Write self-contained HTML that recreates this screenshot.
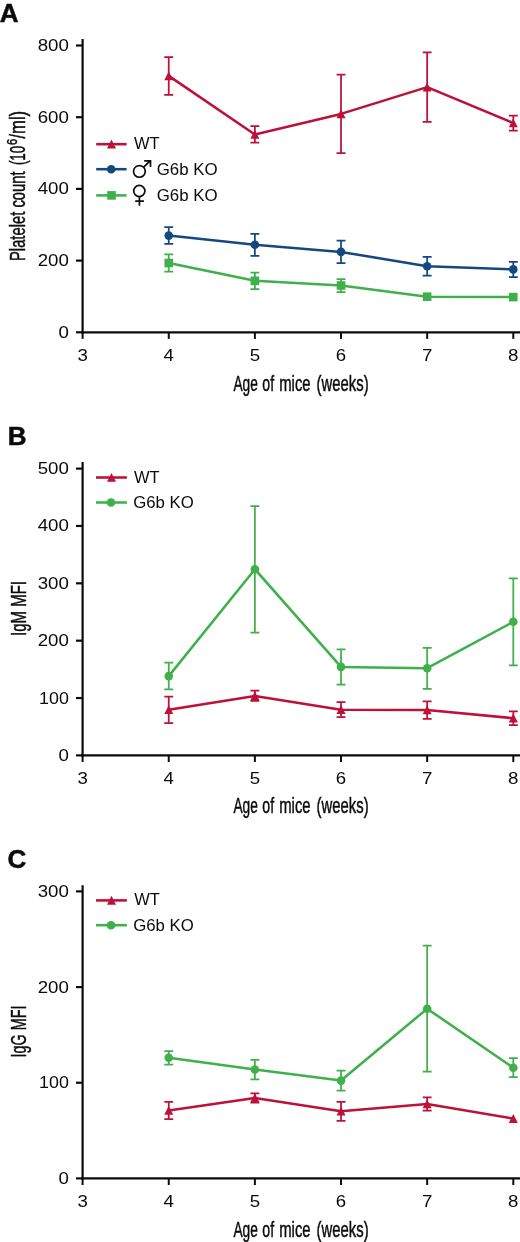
<!DOCTYPE html>
<html><head><meta charset="utf-8"><style>
html,body{margin:0;padding:0;background:#fff;width:520px;height:1242px;overflow:hidden;}
svg{display:block;will-change:transform;}
text{font-family:"Liberation Sans", sans-serif;fill:#0b0b0b;}
.tk{font-size:17px;}
.lg{font-size:16.8px;}
.al{font-size:21.5px;stroke:#0b0b0b;stroke-width:0.45px;}
.pl{font-size:26px;font-weight:bold;stroke:#0b0b0b;stroke-width:0.5px;}
</style></head><body>
<svg width="520" height="1242" viewBox="0 0 520 1242">
<rect width="520" height="1242" fill="#fff"/>
<text x="-0.2" y="21.7" class="pl">A</text>
<text x="7.7" y="444.7" class="pl">B</text>
<text x="7.6" y="867.9" class="pl">C</text>
<line x1="82.6" y1="39.1" x2="82.6" y2="333.40000000000003" stroke="#0b0b0b" stroke-width="2.2"/>
<line x1="81.5" y1="332.3" x2="520" y2="332.3" stroke="#0b0b0b" stroke-width="2.2"/>
<line x1="76" y1="45.5" x2="82.6" y2="45.5" stroke="#0b0b0b" stroke-width="2.2"/>
<text x="68.9" y="51.0" text-anchor="end" class="tk" textLength="31.18" lengthAdjust="spacingAndGlyphs">800</text>
<line x1="76" y1="117.2" x2="82.6" y2="117.2" stroke="#0b0b0b" stroke-width="2.2"/>
<text x="68.9" y="122.7" text-anchor="end" class="tk" textLength="31.18" lengthAdjust="spacingAndGlyphs">600</text>
<line x1="76" y1="188.9" x2="82.6" y2="188.9" stroke="#0b0b0b" stroke-width="2.2"/>
<text x="68.9" y="194.4" text-anchor="end" class="tk" textLength="31.18" lengthAdjust="spacingAndGlyphs">400</text>
<line x1="76" y1="260.6" x2="82.6" y2="260.6" stroke="#0b0b0b" stroke-width="2.2"/>
<text x="68.9" y="266.1" text-anchor="end" class="tk" textLength="31.18" lengthAdjust="spacingAndGlyphs">200</text>
<line x1="76" y1="332.3" x2="82.6" y2="332.3" stroke="#0b0b0b" stroke-width="2.2"/>
<text x="68.9" y="337.8" text-anchor="end" class="tk" textLength="10.39" lengthAdjust="spacingAndGlyphs">0</text>
<line x1="82.6" y1="332.3" x2="82.6" y2="338.90000000000003" stroke="#0b0b0b" stroke-width="1.9800000000000002"/>
<text x="82.6" y="361.1" text-anchor="middle" class="tk" textLength="10.39" lengthAdjust="spacingAndGlyphs">3</text>
<line x1="168.74" y1="332.3" x2="168.74" y2="338.90000000000003" stroke="#0b0b0b" stroke-width="1.9800000000000002"/>
<text x="168.74" y="361.1" text-anchor="middle" class="tk" textLength="10.39" lengthAdjust="spacingAndGlyphs">4</text>
<line x1="254.88" y1="332.3" x2="254.88" y2="338.90000000000003" stroke="#0b0b0b" stroke-width="1.9800000000000002"/>
<text x="254.88" y="361.1" text-anchor="middle" class="tk" textLength="10.39" lengthAdjust="spacingAndGlyphs">5</text>
<line x1="341.02" y1="332.3" x2="341.02" y2="338.90000000000003" stroke="#0b0b0b" stroke-width="1.9800000000000002"/>
<text x="341.02" y="361.1" text-anchor="middle" class="tk" textLength="10.39" lengthAdjust="spacingAndGlyphs">6</text>
<line x1="427.15999999999997" y1="332.3" x2="427.15999999999997" y2="338.90000000000003" stroke="#0b0b0b" stroke-width="1.9800000000000002"/>
<text x="427.15999999999997" y="361.1" text-anchor="middle" class="tk" textLength="10.39" lengthAdjust="spacingAndGlyphs">7</text>
<line x1="513.3" y1="332.3" x2="513.3" y2="338.90000000000003" stroke="#0b0b0b" stroke-width="1.9800000000000002"/>
<text x="513.3" y="361.1" text-anchor="middle" class="tk" textLength="10.39" lengthAdjust="spacingAndGlyphs">8</text>
<text x="233.43" y="390.6" class="al" textLength="24.48" lengthAdjust="spacingAndGlyphs">Age</text>
<text x="262.34" y="390.6" class="al" textLength="11.75" lengthAdjust="spacingAndGlyphs">of</text>
<text x="279.23" y="390.6" class="al" textLength="31.35" lengthAdjust="spacingAndGlyphs">mice</text>
<text x="316.51" y="390.6" class="al" textLength="52.10" lengthAdjust="spacingAndGlyphs">(weeks)</text>
<text transform="translate(25.2,261.0) rotate(-90)" class="al" textLength="89.6" lengthAdjust="spacingAndGlyphs">Platelet count</text>
<text transform="translate(25.2,165.1) rotate(-90)" class="al" textLength="19.4" lengthAdjust="spacingAndGlyphs">(10</text>
<text transform="translate(16.8,145.1) rotate(-90)" class="al" style="font-size:14.6px" textLength="6.2" lengthAdjust="spacingAndGlyphs">6</text>
<text transform="translate(25.2,138.5) rotate(-90)" class="al" textLength="27.6" lengthAdjust="spacingAndGlyphs">/ml)</text>
<path d="M168.74,75.89999999999999 L254.88,134.5 L341.02,113.89999999999999 L427.16,87.1 L513.30,123.0" fill="none" stroke="#bd1139" stroke-width="2.55" stroke-linejoin="round"/>
<path d="M168.74,57.0 V94.89999999999999 M164.29,57.0 H173.19 M164.29,94.89999999999999 H173.19" stroke="#bd1139" stroke-width="1.75" fill="none"/>
<path d="M168.74,71.30 L173.24,80.20 L164.24,80.20 Z" fill="#bd1139"/>
<path d="M254.88,126.2 V142.70000000000002 M250.43,126.2 H259.33 M250.43,142.70000000000002 H259.33" stroke="#bd1139" stroke-width="1.75" fill="none"/>
<path d="M254.88,129.90 L259.38,138.80 L250.38,138.80 Z" fill="#bd1139"/>
<path d="M341.02,74.6 V153.10000000000002 M336.57,74.6 H345.47 M336.57,153.10000000000002 H345.47" stroke="#bd1139" stroke-width="1.75" fill="none"/>
<path d="M341.02,109.30 L345.52,118.20 L336.52,118.20 Z" fill="#bd1139"/>
<path d="M427.16,52.4 V121.8 M422.71,52.4 H431.61 M422.71,121.8 H431.61" stroke="#bd1139" stroke-width="1.75" fill="none"/>
<path d="M427.16,82.50 L431.66,91.40 L422.66,91.40 Z" fill="#bd1139"/>
<path d="M513.30,115.5 V130.5 M508.85,115.5 H517.75 M508.85,130.5 H517.75" stroke="#bd1139" stroke-width="1.75" fill="none"/>
<path d="M513.30,118.40 L517.80,127.30 L508.80,127.30 Z" fill="#bd1139"/>
<path d="M168.74,235.60000000000002 L254.88,244.8 L341.02,251.9 L427.16,266.2 L513.30,269.40000000000003" fill="none" stroke="#164880" stroke-width="2.55" stroke-linejoin="round"/>
<path d="M168.74,227.20000000000002 V243.8 M164.29,227.20000000000002 H173.19 M164.29,243.8 H173.19" stroke="#164880" stroke-width="1.75" fill="none"/>
<circle cx="168.74" cy="235.60000000000002" r="4.3" fill="#164880"/>
<path d="M254.88,233.8 V255.8 M250.43,233.8 H259.33 M250.43,255.8 H259.33" stroke="#164880" stroke-width="1.75" fill="none"/>
<circle cx="254.88" cy="244.8" r="4.3" fill="#164880"/>
<path d="M341.02,240.70000000000002 V263.2 M336.57,240.70000000000002 H345.47 M336.57,263.2 H345.47" stroke="#164880" stroke-width="1.75" fill="none"/>
<circle cx="341.02" cy="251.9" r="4.3" fill="#164880"/>
<path d="M427.16,256.8 V275.6 M422.71,256.8 H431.61 M422.71,275.6 H431.61" stroke="#164880" stroke-width="1.75" fill="none"/>
<circle cx="427.16" cy="266.2" r="4.3" fill="#164880"/>
<path d="M513.30,261.8 V277.1 M508.85,261.8 H517.75 M508.85,277.1 H517.75" stroke="#164880" stroke-width="1.75" fill="none"/>
<circle cx="513.30" cy="269.40000000000003" r="4.3" fill="#164880"/>
<path d="M168.74,263.0 L254.88,280.8 L341.02,285.5 L427.16,296.7 L513.30,297.1" fill="none" stroke="#3fb04b" stroke-width="2.55" stroke-linejoin="round"/>
<path d="M168.74,254.3 V271.7 M164.29,254.3 H173.19 M164.29,271.7 H173.19" stroke="#3fb04b" stroke-width="1.75" fill="none"/>
<rect x="164.44" y="258.70" width="8.6" height="8.6" fill="#3fb04b"/>
<path d="M254.88,272.7 V289.2 M250.43,272.7 H259.33 M250.43,289.2 H259.33" stroke="#3fb04b" stroke-width="1.75" fill="none"/>
<rect x="250.58" y="276.50" width="8.6" height="8.6" fill="#3fb04b"/>
<path d="M341.02,279.1 V292.0 M336.57,279.1 H345.47 M336.57,292.0 H345.47" stroke="#3fb04b" stroke-width="1.75" fill="none"/>
<rect x="336.72" y="281.20" width="8.6" height="8.6" fill="#3fb04b"/>
<rect x="422.86" y="292.40" width="8.6" height="8.6" fill="#3fb04b"/>
<rect x="509.00" y="292.80" width="8.6" height="8.6" fill="#3fb04b"/>
<line x1="96.2" y1="144.2" x2="126.6" y2="144.2" stroke="#bd1139" stroke-width="2.55"/>
<path d="M111.50,139.60 L116.00,148.50 L107.00,148.50 Z" fill="#bd1139"/>
<line x1="96.2" y1="169.2" x2="126.6" y2="169.2" stroke="#164880" stroke-width="2.55"/>
<circle cx="111.20" cy="169.2" r="4.3" fill="#164880"/>
<line x1="96.2" y1="195.4" x2="126.6" y2="195.4" stroke="#3fb04b" stroke-width="2.55"/>
<rect x="107.20" y="191.10" width="8.6" height="8.6" fill="#3fb04b"/>
<text x="134" y="149.2" class="lg" textLength="25.6" lengthAdjust="spacingAndGlyphs">WT</text>
<text x="156.7" y="174.6" class="lg" textLength="61" lengthAdjust="spacingAndGlyphs">G6b KO</text>
<text x="156.7" y="200.8" class="lg" textLength="61" lengthAdjust="spacingAndGlyphs">G6b KO</text>
<g stroke="#0b0b0b" stroke-width="1.7" fill="none"><circle cx="139.4" cy="171.4" r="5.85"/><path d="M143.6,167.2 L150.4,160.6 M144.2,160.9 H150.5 V166.9"/></g>
<g stroke="#0b0b0b" stroke-width="1.7" fill="none"><circle cx="139.3" cy="191.0" r="5.6"/><path d="M139.4,196.6 V205.8 M135.2,201.2 H143.9"/></g>
<line x1="82.6" y1="462.1" x2="82.6" y2="756.5" stroke="#0b0b0b" stroke-width="2.2"/>
<line x1="81.5" y1="755.4" x2="520" y2="755.4" stroke="#0b0b0b" stroke-width="2.2"/>
<line x1="76" y1="468.6" x2="82.6" y2="468.6" stroke="#0b0b0b" stroke-width="2.2"/>
<text x="68.9" y="474.1" text-anchor="end" class="tk" textLength="31.18" lengthAdjust="spacingAndGlyphs">500</text>
<line x1="76" y1="525.96" x2="82.6" y2="525.96" stroke="#0b0b0b" stroke-width="2.2"/>
<text x="68.9" y="531.46" text-anchor="end" class="tk" textLength="31.18" lengthAdjust="spacingAndGlyphs">400</text>
<line x1="76" y1="583.32" x2="82.6" y2="583.32" stroke="#0b0b0b" stroke-width="2.2"/>
<text x="68.9" y="588.82" text-anchor="end" class="tk" textLength="31.18" lengthAdjust="spacingAndGlyphs">300</text>
<line x1="76" y1="640.6800000000001" x2="82.6" y2="640.6800000000001" stroke="#0b0b0b" stroke-width="2.2"/>
<text x="68.9" y="646.1800000000001" text-anchor="end" class="tk" textLength="31.18" lengthAdjust="spacingAndGlyphs">200</text>
<line x1="76" y1="698.04" x2="82.6" y2="698.04" stroke="#0b0b0b" stroke-width="2.2"/>
<text x="68.9" y="703.54" text-anchor="end" class="tk" textLength="29.79" lengthAdjust="spacingAndGlyphs">100</text>
<line x1="76" y1="755.4000000000001" x2="82.6" y2="755.4000000000001" stroke="#0b0b0b" stroke-width="2.2"/>
<text x="68.9" y="760.9000000000001" text-anchor="end" class="tk" textLength="10.39" lengthAdjust="spacingAndGlyphs">0</text>
<line x1="82.6" y1="755.4" x2="82.6" y2="762.0" stroke="#0b0b0b" stroke-width="1.9800000000000002"/>
<text x="82.6" y="784.1999999999999" text-anchor="middle" class="tk" textLength="10.39" lengthAdjust="spacingAndGlyphs">3</text>
<line x1="168.74" y1="755.4" x2="168.74" y2="762.0" stroke="#0b0b0b" stroke-width="1.9800000000000002"/>
<text x="168.74" y="784.1999999999999" text-anchor="middle" class="tk" textLength="10.39" lengthAdjust="spacingAndGlyphs">4</text>
<line x1="254.88" y1="755.4" x2="254.88" y2="762.0" stroke="#0b0b0b" stroke-width="1.9800000000000002"/>
<text x="254.88" y="784.1999999999999" text-anchor="middle" class="tk" textLength="10.39" lengthAdjust="spacingAndGlyphs">5</text>
<line x1="341.02" y1="755.4" x2="341.02" y2="762.0" stroke="#0b0b0b" stroke-width="1.9800000000000002"/>
<text x="341.02" y="784.1999999999999" text-anchor="middle" class="tk" textLength="10.39" lengthAdjust="spacingAndGlyphs">6</text>
<line x1="427.15999999999997" y1="755.4" x2="427.15999999999997" y2="762.0" stroke="#0b0b0b" stroke-width="1.9800000000000002"/>
<text x="427.15999999999997" y="784.1999999999999" text-anchor="middle" class="tk" textLength="10.39" lengthAdjust="spacingAndGlyphs">7</text>
<line x1="513.3" y1="755.4" x2="513.3" y2="762.0" stroke="#0b0b0b" stroke-width="1.9800000000000002"/>
<text x="513.3" y="784.1999999999999" text-anchor="middle" class="tk" textLength="10.39" lengthAdjust="spacingAndGlyphs">8</text>
<text x="233.43" y="813.1" class="al" textLength="24.48" lengthAdjust="spacingAndGlyphs">Age</text>
<text x="262.34" y="813.1" class="al" textLength="11.75" lengthAdjust="spacingAndGlyphs">of</text>
<text x="279.23" y="813.1" class="al" textLength="31.35" lengthAdjust="spacingAndGlyphs">mice</text>
<text x="316.51" y="813.1" class="al" textLength="52.10" lengthAdjust="spacingAndGlyphs">(weeks)</text>
<text transform="translate(25.5,608.5) rotate(-90)" text-anchor="middle" class="al" textLength="54.9" lengthAdjust="spacingAndGlyphs">IgM MFI</text>
<path d="M168.74,676.0999999999999 L254.88,569.1999999999999 L341.02,666.9 L427.16,668.1999999999999 L513.30,621.8" fill="none" stroke="#3fb04b" stroke-width="2.55" stroke-linejoin="round"/>
<path d="M168.74,662.5999999999999 V689.4 M164.29,662.5999999999999 H173.19 M164.29,689.4 H173.19" stroke="#3fb04b" stroke-width="1.75" fill="none"/>
<circle cx="168.74" cy="676.0999999999999" r="4.3" fill="#3fb04b"/>
<path d="M254.88,506.2 V632.5 M250.43,506.2 H259.33 M250.43,632.5 H259.33" stroke="#3fb04b" stroke-width="1.75" fill="none"/>
<circle cx="254.88" cy="569.1999999999999" r="4.3" fill="#3fb04b"/>
<path d="M341.02,649.4 V684.5 M336.57,649.4 H345.47 M336.57,684.5 H345.47" stroke="#3fb04b" stroke-width="1.75" fill="none"/>
<circle cx="341.02" cy="666.9" r="4.3" fill="#3fb04b"/>
<path d="M427.16,647.8 V688.9 M422.71,647.8 H431.61 M422.71,688.9 H431.61" stroke="#3fb04b" stroke-width="1.75" fill="none"/>
<circle cx="427.16" cy="668.1999999999999" r="4.3" fill="#3fb04b"/>
<path d="M513.30,578.3 V665.3 M508.85,578.3 H517.75 M508.85,665.3 H517.75" stroke="#3fb04b" stroke-width="1.75" fill="none"/>
<circle cx="513.30" cy="621.8" r="4.3" fill="#3fb04b"/>
<path d="M168.74,709.8 L254.88,695.9 L341.02,709.6999999999999 L427.16,710.0 L513.30,718.1999999999999" fill="none" stroke="#bd1139" stroke-width="2.55" stroke-linejoin="round"/>
<path d="M168.74,696.5999999999999 V723.0 M164.29,696.5999999999999 H173.19 M164.29,723.0 H173.19" stroke="#bd1139" stroke-width="1.75" fill="none"/>
<path d="M168.74,705.20 L173.24,714.10 L164.24,714.10 Z" fill="#bd1139"/>
<path d="M254.88,690.6999999999999 V700.9 M250.43,690.6999999999999 H259.33 M250.43,700.9 H259.33" stroke="#bd1139" stroke-width="1.75" fill="none"/>
<path d="M254.88,691.30 L259.38,700.20 L250.38,700.20 Z" fill="#bd1139"/>
<path d="M341.02,702.1999999999999 V717.1999999999999 M336.57,702.1999999999999 H345.47 M336.57,717.1999999999999 H345.47" stroke="#bd1139" stroke-width="1.75" fill="none"/>
<path d="M341.02,705.10 L345.52,714.00 L336.52,714.00 Z" fill="#bd1139"/>
<path d="M427.16,701.3 V718.8 M422.71,701.3 H431.61 M422.71,718.8 H431.61" stroke="#bd1139" stroke-width="1.75" fill="none"/>
<path d="M427.16,705.40 L431.66,714.30 L422.66,714.30 Z" fill="#bd1139"/>
<path d="M513.30,711.3 V725.0999999999999 M508.85,711.3 H517.75 M508.85,725.0999999999999 H517.75" stroke="#bd1139" stroke-width="1.75" fill="none"/>
<path d="M513.30,713.60 L517.80,722.50 L508.80,722.50 Z" fill="#bd1139"/>
<line x1="96" y1="477.5" x2="126.9" y2="477.5" stroke="#bd1139" stroke-width="2.55"/>
<path d="M111.50,472.90 L116.00,481.80 L107.00,481.80 Z" fill="#bd1139"/>
<line x1="96" y1="502.5" x2="126.9" y2="502.5" stroke="#3fb04b" stroke-width="2.55"/>
<circle cx="111.00" cy="502.5" r="4.3" fill="#3fb04b"/>
<text x="134" y="482.6" class="lg" textLength="25.6" lengthAdjust="spacingAndGlyphs">WT</text>
<text x="133.2" y="508" class="lg" textLength="60.5" lengthAdjust="spacingAndGlyphs">G6b KO</text>
<line x1="82.6" y1="885.2" x2="82.6" y2="1179.5" stroke="#0b0b0b" stroke-width="2.2"/>
<line x1="81.5" y1="1178.4" x2="520" y2="1178.4" stroke="#0b0b0b" stroke-width="2.2"/>
<line x1="76" y1="891.4" x2="82.6" y2="891.4" stroke="#0b0b0b" stroke-width="2.2"/>
<text x="68.9" y="896.9" text-anchor="end" class="tk" textLength="31.18" lengthAdjust="spacingAndGlyphs">300</text>
<line x1="76" y1="987.0699999999999" x2="82.6" y2="987.0699999999999" stroke="#0b0b0b" stroke-width="2.2"/>
<text x="68.9" y="992.5699999999999" text-anchor="end" class="tk" textLength="31.18" lengthAdjust="spacingAndGlyphs">200</text>
<line x1="76" y1="1082.74" x2="82.6" y2="1082.74" stroke="#0b0b0b" stroke-width="2.2"/>
<text x="68.9" y="1088.24" text-anchor="end" class="tk" textLength="29.79" lengthAdjust="spacingAndGlyphs">100</text>
<line x1="76" y1="1178.4099999999999" x2="82.6" y2="1178.4099999999999" stroke="#0b0b0b" stroke-width="2.2"/>
<text x="68.9" y="1183.9099999999999" text-anchor="end" class="tk" textLength="10.39" lengthAdjust="spacingAndGlyphs">0</text>
<line x1="82.6" y1="1178.4" x2="82.6" y2="1185.0" stroke="#0b0b0b" stroke-width="1.9800000000000002"/>
<text x="82.6" y="1207.2" text-anchor="middle" class="tk" textLength="10.39" lengthAdjust="spacingAndGlyphs">3</text>
<line x1="168.74" y1="1178.4" x2="168.74" y2="1185.0" stroke="#0b0b0b" stroke-width="1.9800000000000002"/>
<text x="168.74" y="1207.2" text-anchor="middle" class="tk" textLength="10.39" lengthAdjust="spacingAndGlyphs">4</text>
<line x1="254.88" y1="1178.4" x2="254.88" y2="1185.0" stroke="#0b0b0b" stroke-width="1.9800000000000002"/>
<text x="254.88" y="1207.2" text-anchor="middle" class="tk" textLength="10.39" lengthAdjust="spacingAndGlyphs">5</text>
<line x1="341.02" y1="1178.4" x2="341.02" y2="1185.0" stroke="#0b0b0b" stroke-width="1.9800000000000002"/>
<text x="341.02" y="1207.2" text-anchor="middle" class="tk" textLength="10.39" lengthAdjust="spacingAndGlyphs">6</text>
<line x1="427.15999999999997" y1="1178.4" x2="427.15999999999997" y2="1185.0" stroke="#0b0b0b" stroke-width="1.9800000000000002"/>
<text x="427.15999999999997" y="1207.2" text-anchor="middle" class="tk" textLength="10.39" lengthAdjust="spacingAndGlyphs">7</text>
<line x1="513.3" y1="1178.4" x2="513.3" y2="1185.0" stroke="#0b0b0b" stroke-width="1.9800000000000002"/>
<text x="513.3" y="1207.2" text-anchor="middle" class="tk" textLength="10.39" lengthAdjust="spacingAndGlyphs">8</text>
<text x="233.43" y="1236.5" class="al" textLength="24.48" lengthAdjust="spacingAndGlyphs">Age</text>
<text x="262.34" y="1236.5" class="al" textLength="11.75" lengthAdjust="spacingAndGlyphs">of</text>
<text x="279.23" y="1236.5" class="al" textLength="31.35" lengthAdjust="spacingAndGlyphs">mice</text>
<text x="316.51" y="1236.5" class="al" textLength="52.10" lengthAdjust="spacingAndGlyphs">(weeks)</text>
<text transform="translate(25.7,1031.5) rotate(-90)" text-anchor="middle" class="al" textLength="51.8" lengthAdjust="spacingAndGlyphs">IgG MFI</text>
<path d="M168.74,1057.7 L254.88,1069.5 L341.02,1080.6 L427.16,1008.6999999999999 L513.30,1067.8" fill="none" stroke="#3fb04b" stroke-width="2.55" stroke-linejoin="round"/>
<path d="M168.74,1051.1 V1064.5 M164.29,1051.1 H173.19 M164.29,1064.5 H173.19" stroke="#3fb04b" stroke-width="1.75" fill="none"/>
<circle cx="168.74" cy="1057.7" r="4.3" fill="#3fb04b"/>
<path d="M254.88,1059.8999999999999 V1079.3999999999999 M250.43,1059.8999999999999 H259.33 M250.43,1079.3999999999999 H259.33" stroke="#3fb04b" stroke-width="1.75" fill="none"/>
<circle cx="254.88" cy="1069.5" r="4.3" fill="#3fb04b"/>
<path d="M341.02,1070.7 V1090.7 M336.57,1070.7 H345.47 M336.57,1090.7 H345.47" stroke="#3fb04b" stroke-width="1.75" fill="none"/>
<circle cx="341.02" cy="1080.6" r="4.3" fill="#3fb04b"/>
<path d="M427.16,945.6999999999999 V1071.6 M422.71,945.6999999999999 H431.61 M422.71,1071.6 H431.61" stroke="#3fb04b" stroke-width="1.75" fill="none"/>
<circle cx="427.16" cy="1008.6999999999999" r="4.3" fill="#3fb04b"/>
<path d="M513.30,1058.2 V1077.2 M508.85,1058.2 H517.75 M508.85,1077.2 H517.75" stroke="#3fb04b" stroke-width="1.75" fill="none"/>
<circle cx="513.30" cy="1067.8" r="4.3" fill="#3fb04b"/>
<path d="M168.74,1110.5 L254.88,1097.8999999999999 L341.02,1111.3 L427.16,1104.0 L513.30,1118.6" fill="none" stroke="#bd1139" stroke-width="2.55" stroke-linejoin="round"/>
<path d="M168.74,1101.8 V1119.1 M164.29,1101.8 H173.19 M164.29,1119.1 H173.19" stroke="#bd1139" stroke-width="1.75" fill="none"/>
<path d="M168.74,1105.90 L173.24,1114.80 L164.24,1114.80 Z" fill="#bd1139"/>
<path d="M254.88,1093.3 V1102.7 M250.43,1093.3 H259.33 M250.43,1102.7 H259.33" stroke="#bd1139" stroke-width="1.75" fill="none"/>
<path d="M254.88,1093.30 L259.38,1102.20 L250.38,1102.20 Z" fill="#bd1139"/>
<path d="M341.02,1101.8 V1120.8 M336.57,1101.8 H345.47 M336.57,1120.8 H345.47" stroke="#bd1139" stroke-width="1.75" fill="none"/>
<path d="M341.02,1106.70 L345.52,1115.60 L336.52,1115.60 Z" fill="#bd1139"/>
<path d="M427.16,1097.3 V1110.7 M422.71,1097.3 H431.61 M422.71,1110.7 H431.61" stroke="#bd1139" stroke-width="1.75" fill="none"/>
<path d="M427.16,1099.40 L431.66,1108.30 L422.66,1108.30 Z" fill="#bd1139"/>
<path d="M513.30,1114.00 L517.80,1122.90 L508.80,1122.90 Z" fill="#bd1139"/>
<line x1="96" y1="900.4" x2="126.9" y2="900.4" stroke="#bd1139" stroke-width="2.55"/>
<path d="M111.50,895.80 L116.00,904.70 L107.00,904.70 Z" fill="#bd1139"/>
<line x1="96" y1="925.2" x2="126.9" y2="925.2" stroke="#3fb04b" stroke-width="2.55"/>
<circle cx="111.00" cy="925.2" r="4.3" fill="#3fb04b"/>
<text x="134.2" y="905.2" class="lg" textLength="25.6" lengthAdjust="spacingAndGlyphs">WT</text>
<text x="133.2" y="930.6" class="lg" textLength="60.5" lengthAdjust="spacingAndGlyphs">G6b KO</text>
</svg>
</body></html>
